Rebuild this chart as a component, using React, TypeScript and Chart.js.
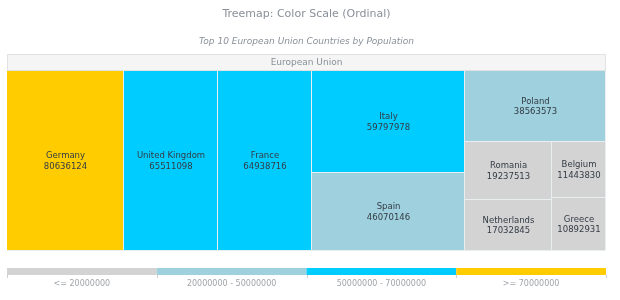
import React, { useEffect, useRef } from "react";
import { Chart, registerables } from "chart.js";

Chart.register(...registerables);

const countries = [
  "Germany",
  "United Kingdom",
  "France",
  "Italy",
  "Spain",
  "Poland",
  "Romania",
  "Netherlands",
  "Belgium",
  "Greece",
];
const populations = [
  80636124, 65511098, 64938716, 59797978, 46070146, 38563573, 19237513,
  17032845, 11443830, 10892931,
];
const rootLabel = "European Union";
const legendLabels = [
  "<= 20000000",
  "20000000 - 50000000",
  "50000000 - 70000000",
  ">= 70000000",
];
const legendThresholds = [20000000, 50000000, 70000000];
const legendColors = ["#d3d3d3", "#9ed0de", "#00ccff", "#ffcc00"];

const FONT = '"DejaVu Sans", Verdana, sans-serif';

function colorFor(v: number): string {
  let i = 0;
  while (i < legendThresholds.length && v > legendThresholds[i]) i++;
  return legendColors[i];
}

type Rect = { i: number; x: number; y: number; w: number; h: number };

function squarify(values: number[], W: number, H: number): Rect[] {
  const total = values.reduce((a, b) => a + b, 0);
  const areas = values.map((v) => (v / total) * W * H);
  const rects: Rect[] = [];
  let x = 0,
    y = 0,
    w = W,
    h = H;
  let row: number[] = [];
  const worst = (r: number[], side: number) => {
    if (!r.length) return Infinity;
    const s = r.reduce((a, b) => a + areas[b], 0);
    const mx = Math.max(...r.map((k) => areas[k]));
    const mn = Math.min(...r.map((k) => areas[k]));
    return Math.max((side * side * mx) / (s * s), (s * s) / (side * side * mn));
  };
  const layout = (r: number[]) => {
    const s = r.reduce((a, b) => a + areas[b], 0);
    if (w >= h) {
      const cw = s / h;
      let cy = y;
      r.forEach((k) => {
        const ch = areas[k] / cw;
        rects.push({ i: k, x, y: cy, w: cw, h: ch });
        cy += ch;
      });
      x += cw;
      w -= cw;
    } else {
      const rh = s / w;
      let cx = x;
      r.forEach((k) => {
        const rw = areas[k] / rh;
        rects.push({ i: k, x: cx, y, w: rw, h: rh });
        cx += rw;
      });
      y += rh;
      h -= rh;
    }
  };
  for (let k = 0; k < areas.length; k++) {
    const side = Math.min(w, h);
    if (!row.length || worst([...row, k], side) <= worst(row, side)) {
      row.push(k);
    } else {
      layout(row);
      row = [k];
    }
  }
  if (row.length) layout(row);
  return rects;
}

const treemapPlugin = {
  id: "treemapPlugin",
  beforeDatasetsDraw(chart: any) {
    const { ctx, chartArea } = chart;
    const xs = chart.scales.x;
    const ys = chart.scales.y;
    const W = chartArea.right - chartArea.left;
    const H = chartArea.bottom - chartArea.top;
    const rects = squarify(populations, W, H);

    // header
    const hx0 = xs.getPixelForValue(0);
    const hx1 = xs.getPixelForValue(1);
    const hy1 = ys.getPixelForValue(0);
    const hy2 = ys.getPixelForValue(1);
    ctx.save();
    ctx.fillStyle = "#f5f5f5";
    ctx.fillRect(hx0, hy1 - 16, hx1 - hx0, 16);
    ctx.strokeStyle = "#e2e2e2";
    ctx.lineWidth = 1;
    ctx.strokeRect(Math.round(hx0) + 0.5, hy1 - 16.5, Math.round(hx1 - hx0) - 1, 16);
    ctx.fillStyle = "#8a8f95";
    ctx.font = `9px ${FONT}`;
    ctx.textAlign = "center";
    ctx.textBaseline = "middle";
    ctx.fillText(rootLabel, (hx0 + hx1) / 2, hy1 - 8);

    // background behind cells (shows as 1px separators)
    ctx.fillStyle = "#e9eff1";
    ctx.fillRect(hx0, hy1, hx1 - hx0, hy2 - hy1);

    rects.forEach((r) => {
      const x0 = Math.round(xs.getPixelForValue(r.x / W));
      const x1 = Math.round(xs.getPixelForValue((r.x + r.w) / W));
      const y0 = Math.round(ys.getPixelForValue(r.y / H));
      const y1 = Math.round(ys.getPixelForValue((r.y + r.h) / H));
      ctx.fillStyle = colorFor(populations[r.i]);
      ctx.fillRect(x0, y0, x1 - x0 - 1, y1 - y0 - 1);
      const cx = (x0 + x1) / 2;
      const cy = (y0 + y1) / 2;
      ctx.fillStyle = "#333b44";
      ctx.font = `8.5px ${FONT}`;
      ctx.textAlign = "center";
      ctx.textBaseline = "middle";
      ctx.fillText(countries[r.i], cx, cy - 5);
      ctx.fillText(String(populations[r.i]), cx, cy + 5.5);
    });
    ctx.restore();
  },
  afterDraw(chart: any) {
    const { ctx, chartArea } = chart;
    const xs = chart.scales.x;
    const n = legendLabels.length;
    const top = chartArea.bottom + 17;
    ctx.save();
    for (let i = 0; i < n; i++) {
      const a = xs.getPixelForValue(i / n);
      const b = xs.getPixelForValue((i + 1) / n);
      ctx.fillStyle = legendColors[i];
      ctx.fillRect(a, top, b - a, 7);
      ctx.fillStyle = "#a0a4a8";
      ctx.font = `8px ${FONT}`;
      ctx.textAlign = "center";
      ctx.textBaseline = "middle";
      ctx.fillText(legendLabels[i], (a + b) / 2, top + 16);
    }
    ctx.strokeStyle = "#cfcfcf";
    ctx.lineWidth = 1;
    for (let i = 0; i <= n; i++) {
      const p = Math.round(xs.getPixelForValue(i / n)) + 0.5;
      ctx.beginPath();
      ctx.moveTo(p, top + 7);
      ctx.lineTo(p, top + 10);
      ctx.stroke();
    }
    ctx.restore();
  },
};

export default function App() {
  const ref = useRef<HTMLCanvasElement | null>(null);
  useEffect(() => {
    if (!ref.current) return;
    const chart = new Chart(ref.current, {
      type: "scatter",
      data: { datasets: [] },
      options: {
        responsive: false,
        maintainAspectRatio: false,
        animation: false,
        layout: { padding: { left: 7, right: 14, top: 0, bottom: 49 } },
        scales: {
          x: { type: "linear", min: 0, max: 1, display: false },
          y: { type: "linear", min: 0, max: 1, reverse: true, display: false },
        },
        plugins: {
          legend: { display: false },
          tooltip: { enabled: false },
          title: {
            display: true,
            text: "Treemap: Color Scale (Ordinal)",
            fullSize: false,
            color: "#8a9098",
            font: { family: FONT, size: 11, weight: "normal", lineHeight: 1.2 },
            padding: { top: 8, bottom: 10 },
          },
          subtitle: {
            display: true,
            text: "Top 10 European Union Countries by Population",
            fullSize: false,
            color: "#8a9098",
            font: { family: FONT, size: 9, style: "italic", lineHeight: 1.2 },
            padding: { top: 5.4, bottom: 23.6 },
          },
        },
      },
      plugins: [treemapPlugin],
    } as any);
    return () => chart.destroy();
  }, []);
  return (
    <div style={{ position: "fixed", left: 0, top: 0, width: 620, height: 300, background: "#fff" }}>
      <canvas ref={ref} width={620} height={300} />
    </div>
  );
}
